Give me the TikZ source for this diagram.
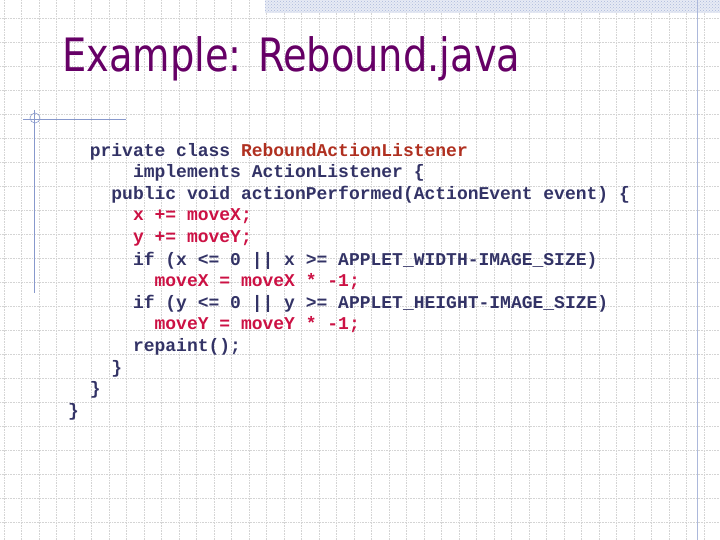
\documentclass[tikz,border=0pt]{standalone}
\usepackage{fontspec}
\setmainfont{DejaVu Sans}
\newfontfamily\codefont{Liberation Mono}
\usetikzlibrary{patterns}
\definecolor{navy}{HTML}{333366}
\definecolor{crim}{HTML}{CC1144}
\definecolor{brick}{HTML}{B03020}
\definecolor{ttl}{HTML}{660066}
\definecolor{gridc}{HTML}{D4D4D4}
\definecolor{deco}{HTML}{8899CC}
\tikzset{code/.style={anchor=base west,inner sep=0pt,font=\codefont\bfseries\fontsize{18}{18}\selectfont,text=navy}}
\begin{document}
\begin{tikzpicture}[x=1pt,y=-1pt]
\useasboundingbox (0,0) rectangle (720,540);
\fill[white] (0,0) rectangle (720,540);
\foreach \i in {0,...,41} \draw[gridc,densely dotted,line width=0.6pt] (\i*17.5+4,0) -- (\i*17.5+4,540);
\foreach \j in {0,...,22} \draw[gridc,densely dotted,line width=0.6pt] (0,\j*24+18) -- (720,\j*24+18);
\fill[deco!20] (265,0) rectangle (720,13);
\fill[pattern=crosshatch dots,pattern color=deco!70] (265,0) rectangle (720,13);
\draw[deco!70,line width=0.8pt] (697,0) -- (697,540);
\draw[deco,line width=0.8pt] (23,119) -- (126,119);
\draw[deco,line width=0.8pt] (34,110) -- (34,293);
\draw[deco,line width=0.6pt] (35,118) circle (5);
\node[anchor=base west,inner sep=0pt,text=ttl,font=\fontsize{46}{46}\selectfont,xscale=0.835] (title) at (62,72) {Example: Rebound.java};
\def\cw{10.8}
\def\dy{6}
\node[code] (l1) at (68+2*\cw,151+\dy) {private class \textcolor{brick}{ReboundActionListener}};
\node[code] (l2) at (68+6*\cw,172+\dy) {implements ActionListener \{};
\node[code] (l3) at (68+4*\cw,194+\dy) {public void actionPerformed(ActionEvent event) \{};
\node[code,text=crim] (l4) at (68+6*\cw,215+\dy) {x += moveX;};
\node[code,text=crim] (l5) at (68+6*\cw,237+\dy) {y += moveY;};
\node[code] (l6) at (68+6*\cw,259+\dy) {if (x <= 0 || x >= APPLET\_WIDTH-IMAGE\_SIZE)};
\node[code,text=crim] (l7) at (68+8*\cw,280+\dy) {moveX = moveX * -1;};
\node[code] (l8) at (68+6*\cw,302+\dy) {if (y <= 0 || y >= APPLET\_HEIGHT-IMAGE\_SIZE)};
\node[code,text=crim] (l9) at (68+8*\cw,323+\dy) {moveY = moveY * -1;};
\node[code] (l10) at (68+6*\cw,345+\dy) {repaint();};
\node[code] (l11) at (68+4*\cw,367+\dy) {\}};
\node[code] (l12) at (68+2*\cw,388+\dy) {\}};
\node[code] (l13) at (68,410+\dy) {\}};
\end{tikzpicture}
\end{document}
